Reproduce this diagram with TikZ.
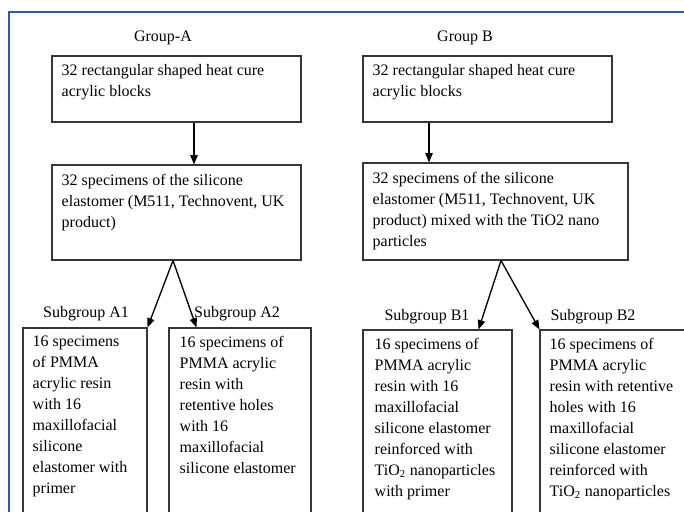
\documentclass[tikz,border=0pt]{standalone}
\usepackage{fontspec}
\setmainfont{Liberation Serif}
\usetikzlibrary{arrows.meta,fit}
\definecolor{frameblue}{RGB}{47,87,178}
\definecolor{boxgray}{RGB}{55,55,55}

\begin{document}
\begin{tikzpicture}[x=0.75pt,y=-0.75pt,
  box/.style={draw=boxgray,line width=0.8pt,inner sep=0pt},
  txt/.style={anchor=north west,inner sep=0pt,align=left,font=\fontsize{12}{15.75}\selectfont},
  lbl/.style={inner sep=0pt,font=\fontsize{12}{15.75}\selectfont},
  arr/.style={line width=1pt,-{Triangle[length=7pt,width=5.5pt]}}]
\clip (0,0) rectangle (684,511);
% frame
\draw[frameblue,line width=1.2pt] (9,520) -- (9,12) -- (700,12);

% Group A
\node[lbl] (grpA) at (163,38) {Group-A};
\node[box,fit={(52,56) (301,122)}] (topA) {};
\node[box,fit={(52,165) (301,260)}] (midA) {};
\node[box,fit={(23,328) (147,540)}] (subA1) {};
\node[box,fit={(169,328) (311,540)}] (subA2) {};
\node[txt] (topAt) at ([shift={(10,9)}]topA.north west) {32 rectangular shaped heat cure\\acrylic blocks};
\node[txt] (midAt) at ([shift={(10,9)}]midA.north west) {32 specimens of the silicone\\elastomer (M511, Technovent, UK\\product)};
\node[txt] (subA1t) at ([shift={(10,8)}]subA1.north west) {16 specimens\\of PMMA\\acrylic resin\\with 16\\maxillofacial\\silicone\\elastomer with\\primer};
\node[txt] (subA2t) at ([shift={(11,8)}]subA2.north west) {16 specimens of\\PMMA acrylic\\resin with\\retentive holes\\with 16\\maxillofacial\\silicone elastomer};
\node[lbl] (lblA1) at (86,314) {Subgroup A1};
\node[lbl] (lblA2) at (237,314) {Subgroup A2};

% Group B
\node[lbl] (grpB) at (465,38) {Group B};
\node[box,fit={(363,56) (612,122)}] (topB) {};
\node[box,fit={(363,163) (628,260)}] (midB) {};
\node[box,fit={(363,330) (512,540)}] (subB1) {};
\node[box,fit={(540,330) (720,540)}] (subB2) {};
\node[txt] (topBt) at ([shift={(10,9)}]topB.north west) {32 rectangular shaped heat cure\\acrylic blocks};
\node[txt] (midBt) at ([shift={(10,9)}]midB.north west) {32 specimens of the silicone\\elastomer (M511, Technovent, UK\\product) mixed with the TiO2 nano\\particles};
\node[txt] (subB1t) at ([shift={(12,8)}]subB1.north west) {16 specimens of\\PMMA acrylic\\resin with 16\\maxillofacial\\silicone elastomer\\reinforced with\\TiO\textsubscript{2} nanoparticles\\with primer};
\node[txt] (subB2t) at ([shift={(10,8)}]subB2.north west) {16 specimens of\\PMMA acrylic\\resin with retentive\\holes with 16\\maxillofacial\\silicone elastomer\\reinforced with\\TiO\textsubscript{2} nanoparticles};
\node[lbl] (lblB1) at (427,317) {Subgroup B1};
\node[lbl] (lblB2) at (593,317) {Subgroup B2};

% arrows
\coordinate (aA) at (194,0);
\coordinate (aB) at (429,0);
\coordinate (splitA) at (173,0);
\coordinate (splitB) at (501,0);
\draw[arr] (topA.south -| aA) -- (midA.north -| aA);
\draw[arr] (topB.south -| aB) -- (midB.north -| aB);
\draw[arr] (midA.south -| splitA) -- (subA1.north east);
\draw[arr] (midA.south -| splitA) -- ([shift={(28,0)}]subA2.north west);
\draw[arr] (midB.south -| splitB) -- ([shift={(-34,0)}]subB1.north east);
\draw[arr] (midB.south -| splitB) -- (subB2.north west);
\end{tikzpicture}
\end{document}
